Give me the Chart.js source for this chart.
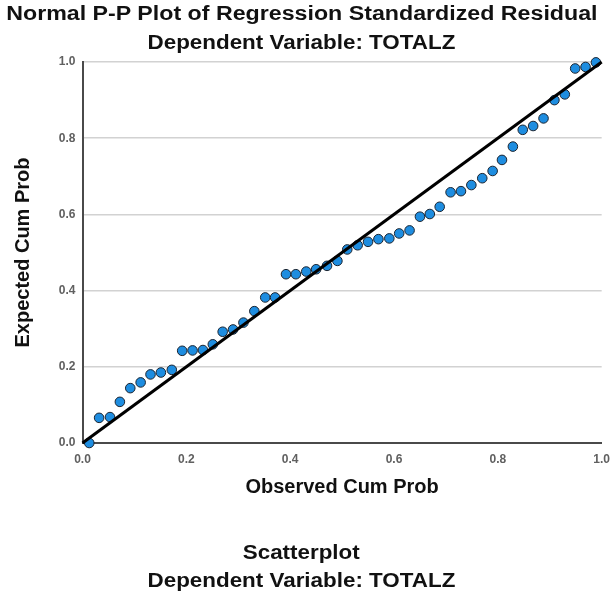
<!DOCTYPE html>
<html><head><meta charset="utf-8">
<script src="https://cdn.jsdelivr.net/npm/chart.js@4.4.0/dist/chart.umd.min.js"></script>
<style>
html,body{margin:0;padding:0;background:#fff;overflow:hidden;}
#wrap{position:relative;width:611px;height:592px;overflow:hidden;}
#c{position:absolute;left:0;top:0;}
.t{position:absolute;left:-4px;width:611px;text-align:center;font-family:"Liberation Sans",Arial,sans-serif;font-weight:bold;font-size:20px;line-height:20px;color:#111;white-space:nowrap;}
.t span{display:inline-block;transform:scaleX(1.12);transform-origin:center;}
.t span.w{transform:scaleX(1.16);}
</style></head>
<body><div id="wrap">
<canvas id="c" width="619" height="592" style="width:619px;height:592px"></canvas>
<div class="t" style="top:3px"><span class="w">Normal P-P Plot of Regression Standardized Residual</span></div>
<div class="t" style="top:32px"><span>Dependent Variable: TOTALZ</span></div>
<div class="t" style="top:542px"><span>Scatterplot</span></div>
<div class="t" style="top:570px"><span>Dependent Variable: TOTALZ</span></div>
</div>
<script>
const observedCumProb = [0.013,0.032,0.053,0.072,0.092,0.112,0.131,0.151,0.172,0.192,
  0.212,0.232,0.251,0.270,0.290,0.310,0.331,0.352,0.371,0.392,
  0.411,0.431,0.450,0.471,0.491,0.510,0.530,0.550,0.570,0.591,
  0.610,0.630,0.650,0.669,0.688,0.709,0.729,0.749,0.770,0.790,
  0.808,0.829,0.848,0.868,0.888,0.909,0.929,0.949,0.969,0.989];
const expectedCumProb = [0.000,0.066,0.068,0.108,0.144,0.159,0.180,0.185,0.192,0.242,
  0.243,0.244,0.259,0.292,0.298,0.316,0.346,0.382,0.382,0.443,
  0.443,0.450,0.456,0.465,0.478,0.508,0.519,0.528,0.535,0.537,
  0.550,0.558,0.594,0.601,0.620,0.658,0.661,0.677,0.695,0.714,
  0.743,0.778,0.822,0.832,0.852,0.900,0.915,0.983,0.987,0.999];
const referenceLine = [0, 1];
const tickValues = [0, 0.2, 0.4, 0.6, 0.8, 1.0];

const FONT = '"Liberation Sans", Arial, sans-serif';
const setTicks = s => { s.ticks = tickValues.map(v => ({value: v})); };

new Chart(document.getElementById('c'), {
  data: {
    datasets: [
      {
        type: 'line',
        data: referenceLine.map(v => ({x: v, y: v})),
        borderColor: '#000',
        borderWidth: 3,
        pointRadius: 0,
        clip: false
      },
      {
        type: 'scatter',
        data: observedCumProb.map((x, i) => ({x: x, y: expectedCumProb[i]})),
        backgroundColor: '#1e8de0',
        borderColor: '#1b2430',
        borderWidth: 1,
        pointRadius: 4.8,
        clip: false
      }
    ]
  },
  options: {
    responsive: false,
    animation: false,
    devicePixelRatio: 1,
    layout: {padding: {top: 62, bottom: 93, left: 0, right: 10}},
    plugins: {legend: {display: false}, tooltip: {enabled: false}},
    scales: {
      x: {
        type: 'linear', min: 0, max: 1,
        afterBuildTicks: setTicks,
        afterFit: s => { s.height = 56; },
        grid: {display: false, drawTicks: false},
        border: {display: true, color: '#4a4a4a', width: 2},
        ticks: {padding: 9, color: '#606060', font: {family: FONT, size: 12, weight: 'bold'},
                callback: v => Number(v).toFixed(1)},
        title: {display: true, text: 'Observed Cum Prob', color: '#111',
                font: {family: FONT, size: 20, weight: 'bold'}, padding: 0}
      },
      y: {
        type: 'linear', min: 0, max: 1,
        afterBuildTicks: setTicks,
        afterFit: s => { s.width = 82.5; },
        grid: {color: '#d2d2d2', lineWidth: 1.5, drawTicks: false},
        border: {display: true, color: '#4a4a4a', width: 2},
        ticks: {padding: 7, color: '#606060', font: {family: FONT, size: 12, weight: 'bold'},
                callback: v => Number(v).toFixed(1)},
        title: {display: true, text: 'Expected Cum Prob', color: '#111',
                font: {family: FONT, size: 20, weight: 'bold'}, padding: {top: 11, bottom: 0}}
      }
    }
  }
});
</script>
</body></html>
